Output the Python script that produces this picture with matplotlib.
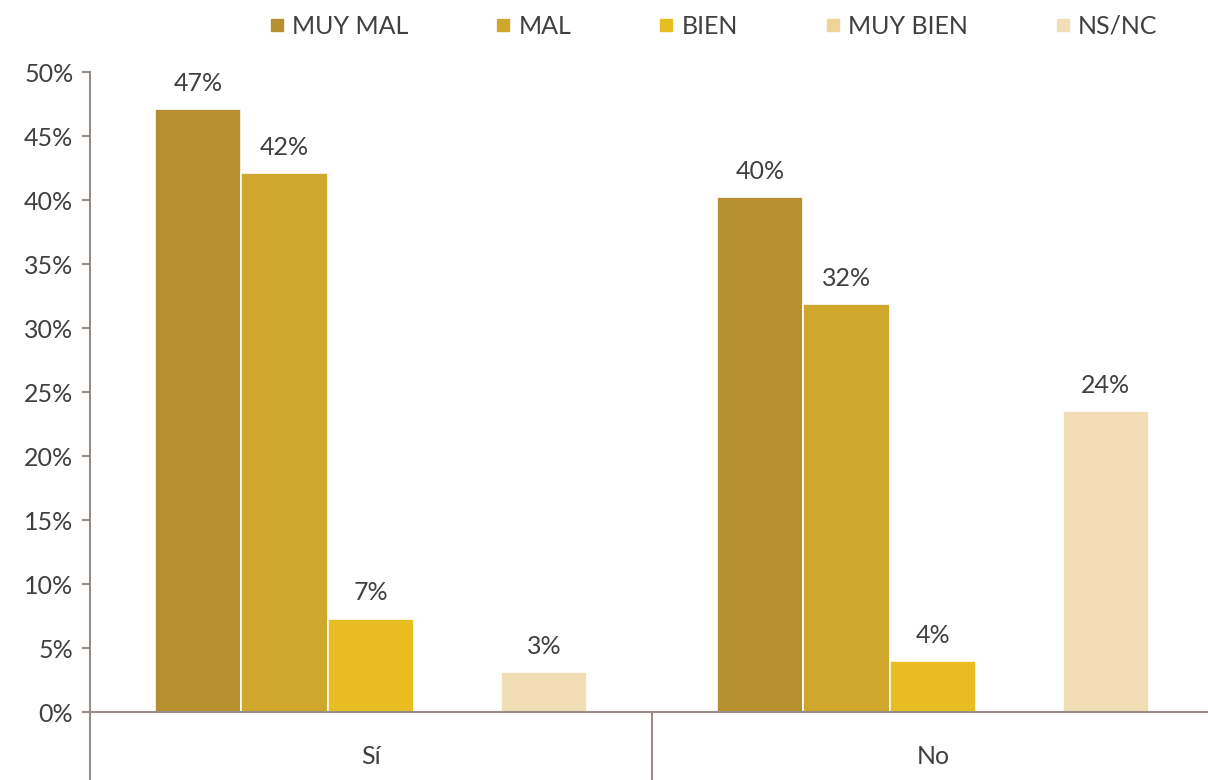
import numpy as np
import matplotlib.pyplot as plt
from matplotlib.lines import Line2D

# datos del gráfico
categorias = ["Sí", "No"]
series = ["MUY MAL", "MAL", "BIEN", "MUY BIEN", "NS/NC"]
muy_mal = [47.1, 40.2]
mal = [42.1, 31.9]
bien = [7.3, 4.0]
muy_bien = [0, 0]
ns_nc = [3.1, 23.5]
colores = ["#B69030", "#CFA72C", "#E7BD22", "#EFD49A", "#F1DDB6"]

valores = [muy_mal, mal, bien, muy_bien, ns_nc]

plt.rcParams['font.family'] = ['Lato', 'DejaVu Sans']
texto = "#404040"
eje = "#9A8C88"
fs = 18

fig = plt.figure(figsize=(12.08, 7.8), dpi=100)
ax = fig.add_axes([90 / 1208, (780 - 712) / 780, (1214 - 90) / 1208, 640 / 780])

n = len(series)
ancho = 1 / (n + 1.5)
x = np.arange(len(categorias)) + 0.5
for i, (nombre, vals, col) in enumerate(zip(series, valores, colores)):
    pos = x + (i - (n - 1) / 2) * ancho
    ax.bar(pos, vals, ancho, color=col, edgecolor="white", linewidth=1.2, label=nombre)
    for p, v in zip(pos, vals):
        if v > 0:
            ax.text(p, v + 1.1, f"{round(v)}%", ha="center", va="bottom",
                    fontsize=fs, color=texto)

ax.set_xlim(0, len(categorias))
ax.set_ylim(0, 50)
ax.set_yticks(np.arange(0, 51, 5))
ax.set_yticklabels([f"{v}%" for v in range(0, 51, 5)])
ax.tick_params(axis="y", colors=eje, labelcolor=texto, labelsize=fs, length=6, width=1.5, pad=6)

# separadores de categoría (ticks largos hacia abajo)
ax.set_xticks(x)
ax.set_xticklabels(categorias)
ax.set_xticks([0, 1, 2], minor=True)
ax.tick_params(axis="x", which="major", length=0, labelsize=fs, labelcolor=texto, pad=24)
ax.tick_params(axis="x", which="minor", length=50, width=1.5, colors=eje)

for s in ["top", "right"]:
    ax.spines[s].set_visible(False)
for s in ["left", "bottom"]:
    ax.spines[s].set_color(eje)
    ax.spines[s].set_linewidth(1.5)

handles = [Line2D([0], [0], marker="s", linestyle="", markersize=8,
                  markerfacecolor=c, markeredgecolor=c) for c in colores]
fig.legend(handles, series, loc="center left", bbox_to_anchor=(242 / 1208, 1 - 26 / 780),
           ncol=5, frameon=False, fontsize=fs, handletextpad=0.1, columnspacing=3.3,
           handlelength=1.0, labelcolor=texto)

fig.savefig("out.png", dpi=100)
